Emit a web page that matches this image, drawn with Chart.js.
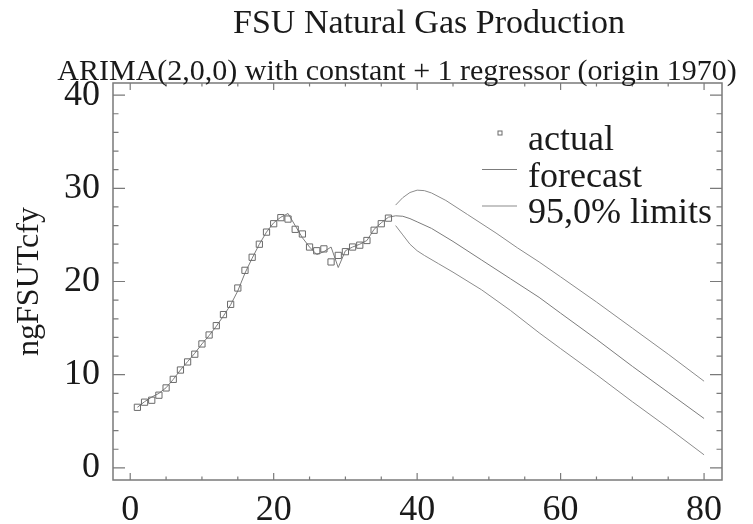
<!DOCTYPE html>
<html>
<head>
<meta charset="utf-8">
<script src="https://cdn.jsdelivr.net/npm/chart.js@4.4.0/dist/chart.umd.min.js"></script>
<style>
  html, body { margin: 0; padding: 0; background: #fff; }
  #wrap { width: 753px; height: 524px; position: relative; }
</style>
</head>
<body>
<div id="wrap"><canvas id="gasChart"></canvas></div>
<script>
// --- Data ---
const actualYears = [1, 2, 3, 4, 5, 6, 7, 8, 9, 10, 11, 12, 13, 14, 15, 16, 17, 18,
  19, 20, 21, 22, 23, 24, 25, 26, 27, 28, 29, 30, 31, 32, 33, 34, 35, 36];
const actualValues = [6.5, 7.05, 7.26, 7.8, 8.58, 9.5, 10.5, 11.37, 12.2, 13.3, 14.26, 15.26,
  16.45, 17.55, 19.3, 21.2, 22.6, 24.0, 25.3, 26.2, 26.85, 26.7, 25.6, 25.1, 23.7, 23.3,
  23.5, 22.1, 22.8, 23.2, 23.7, 23.9, 24.4, 25.5, 26.2, 26.8];

// fitted values in sample, then the forecast beyond the origin
const forecastYears = [1, 2, 3, 4, 5, 6, 7, 8, 9, 10, 11, 12, 13, 14, 15, 16, 17, 18,
  19, 20, 21, 22, 23, 24, 25, 26, 27, 28, 29, 30, 31, 32, 33, 34, 35, 36,
  37, 38, 39, 40, 42, 45, 49, 53, 57, 60, 65, 70, 75, 80];
const forecastValues = [6.5, 7.1, 7.6, 8.0, 8.6, 9.5, 10.5, 11.4, 12.3, 13.3, 14.2, 15.2,
  16.3, 17.5, 19.0, 20.9, 22.5, 24.0, 25.3, 26.3, 26.9, 27.3, 26.0, 24.7, 23.7, 22.9,
  23.2, 23.7, 21.5, 23.3, 23.7, 24.0, 24.4, 25.6, 26.3, 26.9,
  27.05, 27.0, 26.75, 26.4, 25.7, 24.3, 22.3, 20.3, 18.3, 16.6, 13.8, 10.9, 8.1, 5.3];

const upperYears = [37, 38, 39, 40, 41, 42, 44, 47, 51, 54, 57, 60, 65, 70, 75, 80];
const upperValues = [28.2, 29.0, 29.55, 29.8, 29.75, 29.5, 28.7, 27.2, 25.2, 23.6, 22.1,
  20.5, 17.8, 15.0, 12.2, 9.3];

const lowerYears = [37, 38, 39, 40, 41, 43, 45, 49, 53, 57, 60, 65, 70, 75, 80];
const lowerValues = [26.0, 25.0, 24.0, 23.3, 22.8, 21.9, 21.0, 19.1, 16.9, 14.5, 12.8,
  10.0, 7.1, 4.3, 1.4];

const xTickValues = [0, 20, 40, 60, 80];
const yTickValues = [0, 10, 20, 30, 40];

const titleText = 'FSU Natural Gas Production';
const subtitleText = 'ARIMA(2,0,0) with constant + 1 regressor (origin 1970)';

const serif = "'Liberation Serif', 'DejaVu Serif', serif";
const axisColor = '#7a7a7a';

const pairs = (xs, ys) => xs.map((x, i) => ({ x: x, y: ys[i] }));

// title lines: the original centres them a bit right of the canvas middle
const headings = {
    id: 'headings',
    afterDraw(chart) {
        const { ctx } = chart;
        ctx.save();
        ctx.fillStyle = '#1a1a1a';
        ctx.textAlign = 'center';
        ctx.textBaseline = 'alphabetic';
        ctx.font = "34px " + serif;
        ctx.fillText(titleText, 429, 33);
        ctx.font = "30px " + serif;
        ctx.fillText(subtitleText, 397, 80);
        ctx.restore();
    }
};

// box with inward ticks on all four sides
const boxTicks = {
    id: 'boxTicks',
    afterDatasetsDraw(chart) {
        const { ctx, chartArea: a, scales: { x, y } } = chart;
        ctx.save();
        ctx.strokeStyle = axisColor;
        ctx.lineWidth = 1.5;
        ctx.strokeRect(a.left, a.top, a.right - a.left, a.bottom - a.top);
        ctx.lineWidth = 1.2;
        ctx.beginPath();
        for (let v = Math.ceil(x.min / 5) * 5; v <= x.max; v += 5) {
            const px = x.getPixelForValue(v);
            const len = v % 20 === 0 ? 7 : 3.5;
            ctx.moveTo(px, a.bottom); ctx.lineTo(px, a.bottom - len);
            ctx.moveTo(px, a.top); ctx.lineTo(px, a.top + len);
        }
        for (let v = Math.ceil(y.min / 2) * 2; v <= y.max; v += 2) {
            const py = y.getPixelForValue(v);
            const len = v % 10 === 0 ? 12 : 5.5;
            ctx.moveTo(a.left, py); ctx.lineTo(a.left + len, py);
            ctx.moveTo(a.right, py); ctx.lineTo(a.right - len, py);
        }
        ctx.stroke();
        ctx.restore();
    }
};

// legend drawn inside the plot area, upper right
const innerLegend = {
    id: 'innerLegend',
    afterDraw(chart) {
        const { ctx, chartArea: a } = chart;
        const seen = [];
        const textX = a.right - 194;
        let base = a.top + 67;
        ctx.save();
        ctx.font = "36px " + serif;
        ctx.textBaseline = 'alphabetic';
        ctx.fillStyle = '#1a1a1a';
        chart.data.datasets.forEach(ds => {
            if (seen.includes(ds.label)) return;
            seen.push(ds.label);
            const midY = base - 17;
            ctx.strokeStyle = ds.borderColor;
            ctx.lineWidth = 1.2;
            ctx.beginPath();
            if (ds.showLine === false) {
                ctx.lineWidth = 1;
                ctx.strokeRect(textX - 30, midY - 2, 4, 4);
            } else {
                ctx.moveTo(textX - 46, midY);
                ctx.lineTo(textX - 11, midY);
                ctx.stroke();
            }
            ctx.fillText(ds.label, textX, base);
            base += 36.5;
        });
        ctx.restore();
    }
};

const chart = new Chart(document.getElementById('gasChart'), {
    type: 'scatter',
    data: {
        datasets: [
            {
                label: 'actual',
                data: pairs(actualYears, actualValues),
                showLine: false,
                pointStyle: 'rect',
                pointRadius: 4.4,
                borderColor: '#6a6a6a',
                backgroundColor: 'rgba(0,0,0,0)',
                borderWidth: 1,
                order: 0
            },
            {
                label: 'forecast',
                data: pairs(forecastYears, forecastValues),
                showLine: true,
                pointRadius: 0,
                borderColor: '#7c7c7c',
                borderWidth: 1,
                order: 1
            },
            {
                label: '95,0% limits',
                data: pairs(upperYears, upperValues),
                showLine: true,
                pointRadius: 0,
                borderColor: '#8c8c8c',
                borderWidth: 1,
                order: 2
            },
            {
                label: '95,0% limits',
                data: pairs(lowerYears, lowerValues),
                showLine: true,
                pointRadius: 0,
                borderColor: '#8c8c8c',
                borderWidth: 1,
                order: 2
            }
        ]
    },
    options: {
        responsive: true,
        maintainAspectRatio: false,
        animation: false,
        layout: { padding: { left: 0, right: 31, top: 83, bottom: 0 } },
        plugins: {
            legend: { display: false },
            tooltip: { enabled: false },
            title: { display: false }
        },
        scales: {
            x: {
                type: 'linear',
                min: -2.4,
                max: 82.5,
                afterBuildTicks: s => { s.ticks = xTickValues.map(v => ({ value: v })); },
                afterFit: s => { s.height = 44; },
                grid: { display: false, drawTicks: false },
                border: { display: false },
                ticks: {
                    color: '#1a1a1a',
                    font: { family: serif, size: 36 },
                    padding: 9,
                    maxRotation: 0
                }
            },
            y: {
                type: 'linear',
                min: -1.3,
                max: 41.3,
                afterBuildTicks: s => { s.ticks = yTickValues.map(v => ({ value: v })); },
                afterFit: s => { s.width = 113; },
                grid: { display: false, drawTicks: false },
                border: { display: false },
                title: {
                    display: true,
                    text: 'ngFSUTcfy',
                    color: '#1a1a1a',
                    font: { family: serif, size: 32 },
                    padding: { top: 10, bottom: 0 }
                },
                ticks: {
                    color: '#1a1a1a',
                    font: { family: serif, size: 36 },
                    padding: 13
                }
            }
        }
    },
    plugins: [headings, boxTicks, innerLegend]
});
</script>
</body>
</html>
